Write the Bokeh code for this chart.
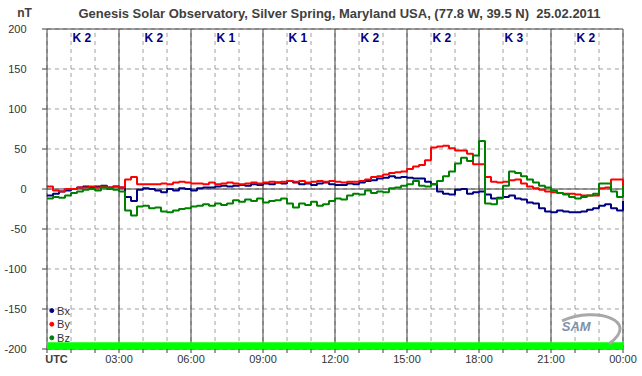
from bokeh.plotting import figure
from bokeh.models import Range1d, ColumnDataSource
from bokeh.core.properties import value
from bokeh.embed import file_html
from bokeh.resources import INLINE

# ---------------- data ----------------
hours = [i * 0.25 for i in range(97)]

bx = [-8, -6, -3, -2,
      0, 2, 3, 2,
      3, 4, 2, 3,
      2, -10, -15, -1,
      1, 0, -2, -4,
      0, -2, 1, 0,
      -2, 1, 2, 2,
      3, 4, 3, 4,
      5, 4, 6, 5,
      7, 6, 8, 7,
      10, 8, 6, 7,
      5, 7, 8, 6,
      5, 5, 7, 6,
      8, 10, 11, 13,
      14, 16, 14, 15,
      14, 13, 13, 9,
      6, -3, -6, -7,
      -1, 0, -6, -4,
      -3, -7, -12, -11,
      -10, -8, -12, -13,
      -17, -18, -24, -28,
      -29, -27, -28, -29,
      -29, -28, -26, -24,
      -21, -19, -24, -27,
      -15]

by = [3, -2, -3, 0,
      0, 2, 2, 3,
      2, 3, 2, 3,
      2, 12, 15, 6,
      6, 6, 6, 7,
      6, 8, 9, 8,
      7, 7, 6, 8,
      6, 7, 8, 7,
      6, 7, 8, 7,
      8, 9, 8, 9,
      10, 9, 10, 8,
      9, 10, 9, 10,
      9, 8, 9, 9,
      10, 12, 15, 16,
      18, 20, 21, 22,
      25, 28, 30, 36,
      52, 53, 54, 51,
      48, 48, 44, 31,
      31, 15, 9, 8,
      9, 11, 12, 7,
      3, 1, -1, -3,
      -4, -5, -6, -6,
      -7, -8, -8, -8,
      1, 2, 12, 12,
      -3]

bz = [-12, -10, -11, -8,
      -5, -3, -1, 0,
      -2, 2, 0, -1,
      -3, -27, -33, -22,
      -21, -24, -23, -28,
      -29, -27, -25, -24,
      -22, -21, -19, -21,
      -18, -20, -18, -14,
      -16, -13, -15, -12,
      -17, -15, -14, -12,
      -18, -23, -18, -20,
      -16, -21, -19, -15,
      -12, -13, -8, -6,
      -7, -2, -5, -3,
      -4, 1, 2, 4,
      6, 10, 4, 3,
      6, 10, 16, 22,
      32, 39, 35, 42,
      60, -18, -19, -12,
      4, 22, 20, 16,
      12, 8, 4, 2,
      -2, -5, -7, -10,
      -12, -10, -8, -6,
      7, 7, -3, -10,
      5]

k_index = [2, 2, 1, 1, 2, 2, 3, 2]
k_start_hours = [0, 3, 6, 9, 12, 15, 18, 21]

series_names = ["Bx", "By", "Bz"]
series_colors = ["#000080", "#ff0000", "#008000"]

y_ticks = [200, 150, 100, 50, 0, -50, -100, -150, -200]
x_label_hours = [3, 6, 9, 12, 15, 18, 21, 24]
x_labels = ["03:00", "06:00", "09:00", "12:00", "15:00", "18:00", "21:00", "00:00"]

title_text = "Genesis Solar Observatory, Silver Spring, Maryland USA, (77.8 W, 39.5 N)\u00a0 25.02.2011"

# ---------------- layout constants (pixels) ----------------
W, H = 642, 376
PL, PT = 46.5, 28.5          # plot-area left / top edge in canvas pixels
PX_PER_H = 24.0              # pixels per hour
PX_PER_NT = 0.8              # pixels per nT
Y_TOP, Y_BOT, X0, X1 = 200, -200, 0, 24

def hx(px):   # canvas px -> hours
    return (px - PL) / PX_PER_H

def vy(py):   # canvas py -> nT
    return Y_TOP - (py - PT) / PX_PER_NT

FONT = "Liberation Sans"
DARK = "#404040"
GRID = "#a0a0a0"

p = figure(width=W, height=H, x_range=Range1d(hx(0), hx(W)), y_range=Range1d(vy(H), vy(0)),
           output_backend="svg", toolbar_location=None,
           min_border=0, min_border_left=0, min_border_right=0,
           min_border_top=0, min_border_bottom=0)
p.axis.visible = False
p.grid.visible = False
p.outline_line_color = None
p.background_fill_color = "white"
p.border_fill_color = "white"

all_hours = list(range(X0, X1 + 1))

# dashed grid
p.segment(x0=[X0] * len(y_ticks), x1=[X1] * len(y_ticks), y0=y_ticks, y1=y_ticks,
          line_color=GRID, line_dash="4 4", line_width=1)
p.segment(x0=all_hours, x1=all_hours, y0=[Y_BOT] * len(all_hours), y1=[Y_TOP] * len(all_hours),
          line_color=GRID, line_dash="4 4", line_width=1)

# solid 3-hour lines, zero line, frame
solid_h = [0] + x_label_hours
p.segment(x0=solid_h, x1=solid_h, y0=[Y_BOT] * len(solid_h), y1=[Y_TOP] * len(solid_h),
          line_color=DARK, line_width=1)
p.segment(x0=[X0, X0, X0], x1=[X1, X1, X1], y0=[0, Y_TOP, Y_BOT], y1=[0, Y_TOP, Y_BOT],
          line_color=DARK, line_width=1)

# ticks
p.segment(x0=[hx(PL - 5)] * len(y_ticks), x1=[X0] * len(y_ticks), y0=y_ticks, y1=y_ticks,
          line_color=DARK, line_width=1)
p.segment(x0=all_hours, x1=all_hours, y0=[Y_BOT] * len(all_hours),
          y1=[vy(PT + 320 + 4)] * len(all_hours), line_color=DARK, line_width=1)

# tick labels
p.text(x=[hx(26)] * len(y_ticks), y=y_ticks, text=[str(v) for v in y_ticks],
       text_color="#333333", text_font=value(FONT), text_font_size="11px",
       text_align="right", text_baseline="middle")
p.text(x=x_label_hours, y=[vy(358.5)] * len(x_label_hours), text=x_labels,
       text_color="#333333", text_font=value(FONT), text_font_size="11px",
       text_align="center", text_baseline="middle")
p.text(x=[hx(56)], y=[vy(358.5)], text=["UTC"], text_color=DARK,
       text_font=value(FONT), text_font_size="11px", text_font_style="bold",
       text_align="center", text_baseline="middle")

# title and unit
p.text(x=[hx(339)], y=[vy(13)], text=[title_text], text_color=DARK,
       text_font=value(FONT), text_font_size="13px", text_font_style="bold",
       text_align="center", text_baseline="middle")
p.text(x=[hx(24)], y=[vy(12)], text=["nT"], text_color=DARK,
       text_font=value(FONT), text_font_size="12px", text_font_style="bold",
       text_align="center", text_baseline="middle")

# green status bar
p.quad(left=[X0], right=[X1], bottom=[Y_BOT], top=[-191.5], fill_color="#00ff00", line_color=None)

# series
for ys, c in zip([bx, by, bz], series_colors):
    src = ColumnDataSource(dict(x=hours, y=ys))
    p.step("x", "y", source=src, mode="after", line_color=c, line_width=2)

# K indices
p.text(x=[h + 1.45 for h in k_start_hours], y=[189] * len(k_index),
       text=["K %d" % k for k in k_index], text_color="#000080",
       text_font=value(FONT), text_font_size="12px", text_font_style="bold",
       text_align="center", text_baseline="middle")

# legend
leg_y = [-152, -169, -186]
p.scatter(x=[0.2] * 3, y=leg_y, size=4, color=series_colors)
p.text(x=[0.42] * 3, y=leg_y, text=series_names, text_color="#333333",
       text_font=value(FONT), text_font_size="11px",
       text_align="left", text_baseline="middle")

# logo
p.bezier(x0=[21.46], y0=[-164.75], x1=[23.42], y1=[-193.5],
         cx0=[22.9], cy0=[-146], cx1=[24.75], cy1=[-164.75],
         line_color="#a8a8a8", line_width=3)
p.text(x=[22.05], y=[-172], text=["SAM"], text_color="#8090a8",
       text_font=value(FONT), text_font_size="13px", text_font_style="bold italic",
       text_align="center", text_baseline="middle")

open("out.html", "w").write(file_html(p, INLINE))
